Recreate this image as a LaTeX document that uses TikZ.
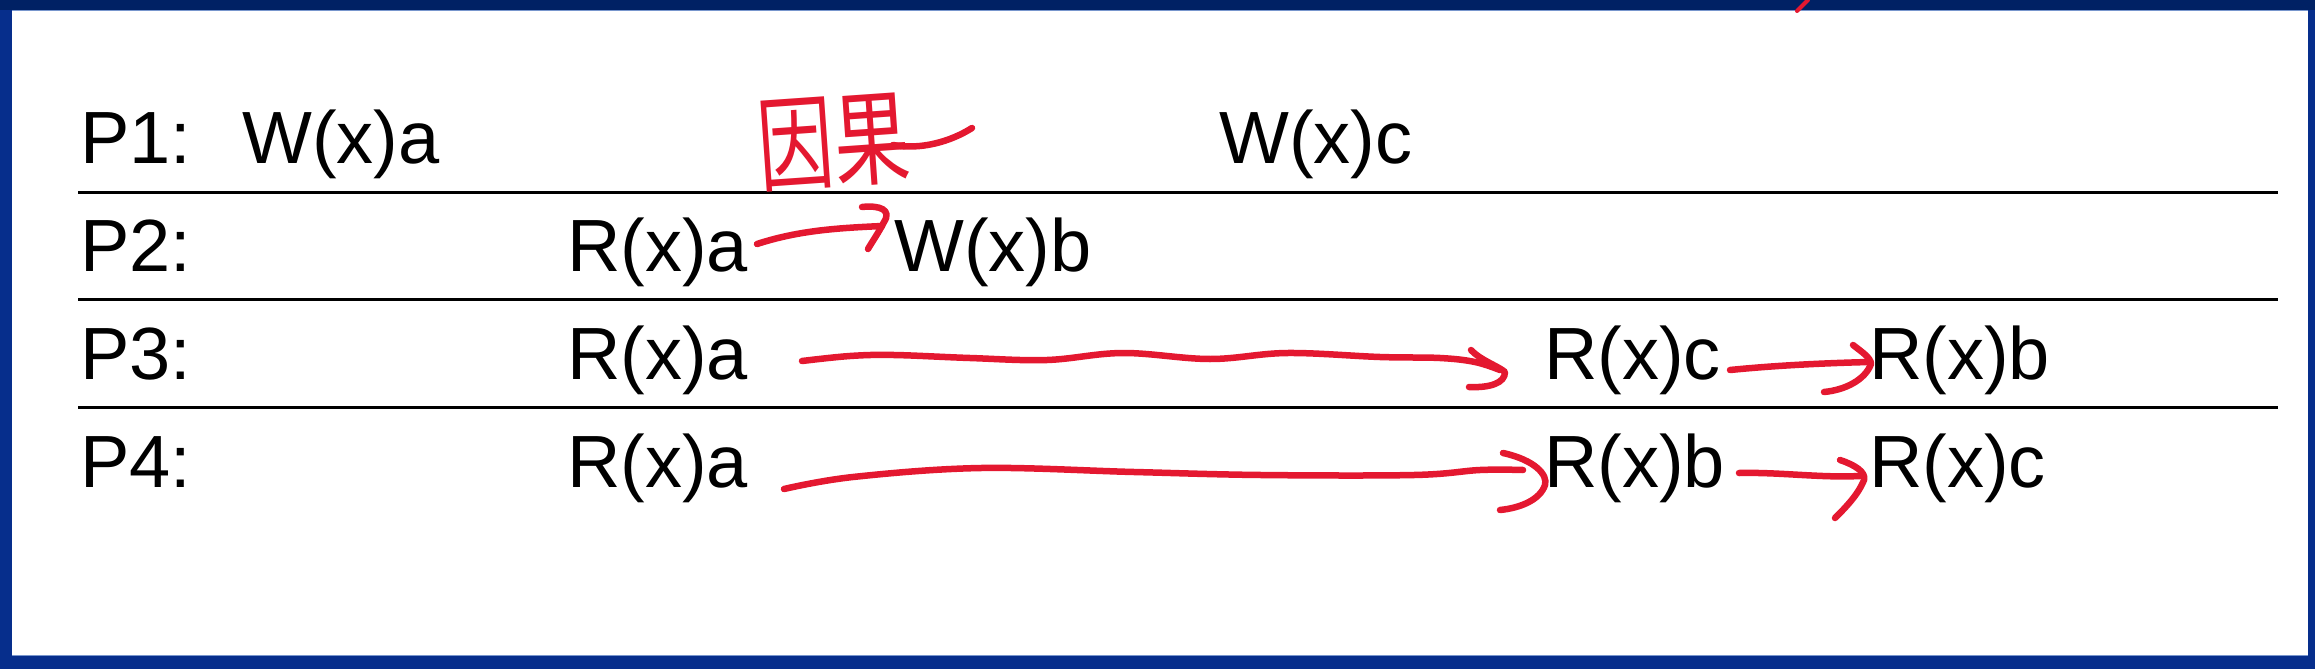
\documentclass[tikz,border=0pt]{standalone}
\usepackage{fontspec}
\setmainfont{Liberation Sans}
\newfontfamily\cjkfont{Noto Sans CJK SC}
\definecolor{navytop}{RGB}{0,33,100}
\definecolor{navyside}{RGB}{6,46,140}
\definecolor{edgeline}{RGB}{120,150,205}
\definecolor{inkred}{RGB}{228,24,48}
\begin{document}
\begin{tikzpicture}[x=1pt,y=-1pt,
  lbl/.style={anchor=base west, inner sep=0pt, font=\fontsize{74}{80}\selectfont},
  rule/.style={line width=3pt, black},
  ink/.style={draw=inkred, line width=6.5pt, line cap=round, line join=round},
  inkthin/.style={ink, line width=4pt}]
\useasboundingbox (0,0) rectangle (2315,669);
% frame
\fill[navyside] (0,0) rectangle (2315,669);
\fill[navytop] (0,0) rectangle (2315,10);
\fill[white] (12,10) rectangle (2308,656);
\draw[edgeline, line width=1.5pt] (12,10.5) -- (2308,10.5);
\draw[edgeline, line width=1.5pt] (12,655.5) -- (2308,655.5);
% rules
\coordinate (l1a) at (78,192); \coordinate (l1b) at (2278,192);
\coordinate (l2a) at (78,299); \coordinate (l2b) at (2278,299);
\coordinate (l3a) at (78,407); \coordinate (l3b) at (2278,407);
\draw[rule] (l1a) -- (l1b);
\draw[rule] (l2a) -- (l2b);
\draw[rule] (l3a) -- (l3b);
% texts
\node[lbl] (p1) at (80,163) {P1:};
\node[lbl] (wa) at (242,163) {W(x)a};
\node[lbl] (wc) at (1219,163) {W(x)c};
\node[lbl] (p2) at (80,271) {P2:};
\node[lbl] (ra2) at (567,271) {R(x)a};
\node[lbl] (wb) at (894,271) {W(x)b};
\node[lbl] (p3) at (80,379) {P3:};
\node[lbl] (ra3) at (567,379) {R(x)a};
\node[lbl] (rc3) at (1544,379) {R(x)c};
\node[lbl] (rb3) at (1869,379) {R(x)b};
\node[lbl] (p4) at (80,487) {P4:};
\node[lbl] (ra4) at (567,487) {R(x)a};
\node[lbl] (rb4) at (1544,487) {R(x)b};
\node[lbl] (rc4) at (1869,487) {R(x)c};
% handwritten annotations
\node[text=inkred, inner sep=0pt, rotate=4, font=\cjkfont\fontsize{80}{80}\selectfont] (yg) at (834,142) {\scalebox{0.95}[1.3]{因果}};
\draw[ink] (893,145) .. controls (920,150) and (950,142) .. (972,128);
% P2 arrow
\draw[ink] (757,244) .. controls (800,230) and (840,228) .. (882,226);
\draw[ink] (862,207) .. controls (880,205) and (892,210) .. (884,222) .. controls (879,232) and (872,242) .. (868,249);
% P3 long arrow
\draw[ink] plot[smooth, tension=0.6] coordinates {(802,361) (850,356) (894,355) (970,358) (1047,360) (1123,353) (1210,359) (1287,353) (1380,357) (1440,358) (1475,362) (1500,370)};
\draw[ink] (1471,350) .. controls (1480,360) and (1498,366) .. (1505,372) .. controls (1505,383) and (1490,388) .. (1469,387);
% P3 short arrow
\draw[ink] (1730,370) .. controls (1780,365) and (1830,363) .. (1869,362);
\draw[ink] (1853,345) .. controls (1862,352) and (1871,358) .. (1871,364) .. controls (1865,380) and (1845,390) .. (1824,392);
% P4 long arrow
\draw[ink] plot[smooth, tension=0.6] coordinates {(784,489) (853,477) (981,468) (1134,472) (1261,475) (1414,475) (1480,470) (1523,470)};
\draw[ink] (1503,453) .. controls (1535,460) and (1548,475) .. (1545,485) .. controls (1540,500) and (1520,508) .. (1500,510);
% P4 short arrow
\draw[ink] (1739,473) .. controls (1780,472) and (1820,478) .. (1860,476);
\draw[ink] (1840,460) .. controls (1855,465) and (1866,472) .. (1864,480) .. controls (1858,495) and (1845,508) .. (1835,518);
% stray stroke at top
\draw[inkthin] (1808,0) -- (1797,11);
\end{tikzpicture}
\end{document}
